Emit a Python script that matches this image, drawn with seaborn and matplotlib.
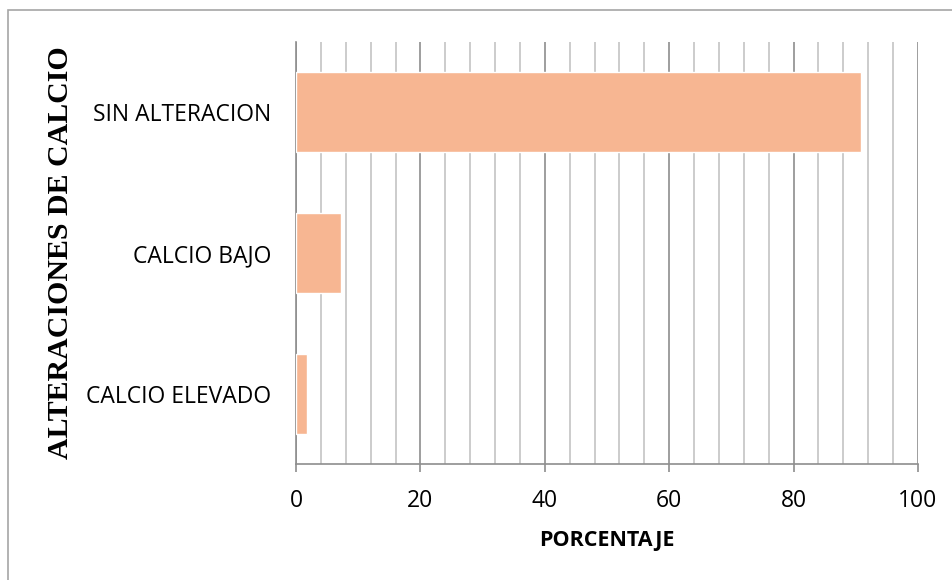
import matplotlib
matplotlib.use('Agg')
import matplotlib.pyplot as plt
import seaborn as sns
import pandas as pd
from matplotlib.patches import Rectangle
from matplotlib.ticker import MultipleLocator

categories = ['SIN ALTERACION', 'CALCIO BAJO', 'CALCIO ELEVADO']
porcentaje = [90.9, 7.3, 1.8]
x_ticks = [0, 20, 40, 60, 80, 100]

BAR_COLOR = '#F7B692'
MAJOR_GRID = '#8E8E8E'
MINOR_GRID = '#C4C4C4'

sns.set_style('white')
plt.rcParams['font.family'] = ['Open Sans', 'DejaVu Sans']
plt.rcParams['text.color'] = 'black'
plt.rcParams['axes.labelcolor'] = 'black'
plt.rcParams['xtick.color'] = 'black'
plt.rcParams['ytick.color'] = 'black'

df = pd.DataFrame({'categoria': categories, 'porcentaje': porcentaje})

fig = plt.figure(figsize=(9.53, 5.8), dpi=100)
ax = fig.add_axes([296 / 953, 1 - 464 / 580, 622 / 953, 422 / 580])

sns.barplot(data=df, x='porcentaje', y='categoria', orient='h',
            color=BAR_COLOR, saturation=1, width=0.57, ax=ax, zorder=3)

ax.set_xlim(0, 100)
ax.set_xticks(x_ticks)
ax.xaxis.set_minor_locator(MultipleLocator(4))
ax.grid(axis='x', which='major', color=MAJOR_GRID, linewidth=1.2, zorder=0)
ax.grid(axis='x', which='minor', color=MINOR_GRID, linewidth=1.2, zorder=0)
ax.grid(axis='y', visible=False)
ax.set_axisbelow(True)

for side in ['top', 'right']:
    ax.spines[side].set_visible(False)
ax.spines['left'].set_color(MAJOR_GRID)
ax.spines['bottom'].set_color(MAJOR_GRID)
ax.spines['left'].set_linewidth(1.2)
ax.spines['bottom'].set_linewidth(1.2)

ax.tick_params(axis='x', which='major', length=6, width=1.2, color=MAJOR_GRID,
               labelcolor='black', direction='out', pad=12, labelsize=16.5,
               bottom=True)
ax.tick_params(axis='x', which='minor', length=0)
ax.tick_params(axis='y', length=0, pad=18, labelsize=16.5, labelcolor='black')

ax.set_xlabel('PORCENTAJE', fontsize=15.5, fontweight='bold', labelpad=12,
              color='black')
ax.set_ylabel('ALTERACIONES DE CALCIO', fontsize=21.5, fontweight='bold',
              family=['Liberation Serif', 'DejaVu Serif'], color='black')
ax.yaxis.set_label_coords(-222 / 622, 0.5)

# outer chart border (clipped at right and bottom like the source)
fig.patches.append(Rectangle((8 / 953, -0.1), 1.2, 1.1 - 10 / 580,
                             transform=fig.transFigure, fill=False,
                             edgecolor='#A6A6A6', linewidth=1.2))

fig.savefig('out.png', dpi=100)
